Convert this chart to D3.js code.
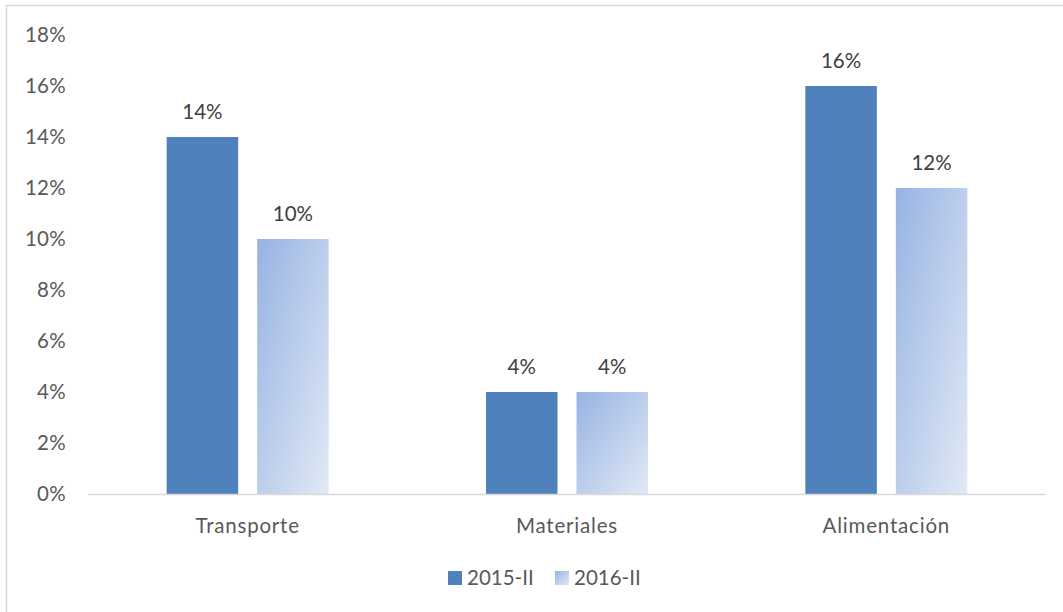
<!DOCTYPE html>
<html>
<head>
<meta charset="utf-8">
<script src="https://cdn.jsdelivr.net/npm/d3@7"></script>
<style>
  body { margin: 0; background: #fff; }
  text { font-family: Lato, "Open Sans", sans-serif; }
</style>
</head>
<body>
<div class="chart"></div>
<script>
var categories = ['Transporte', 'Materiales', 'Alimentación'];
var series = ['2015-II', '2016-II'];
var values2015 = [0.14, 0.04, 0.16];
var values2016 = [0.10, 0.04, 0.12];
var yTicks = [0, 0.02, 0.04, 0.06, 0.08, 0.10, 0.12, 0.14, 0.16, 0.18];

var width = 1063, height = 612;
var svg = d3.select('.chart').append('svg').attr('width', width).attr('height', height);

var defs = svg.append('defs');
var grad = defs.append('linearGradient').attr('id', 'g2016')
    .attr('x1', '0%').attr('y1', '0%').attr('x2', '100%').attr('y2', '100%');
grad.append('stop').attr('offset', '0%').attr('stop-color', '#97b3e3');
grad.append('stop').attr('offset', '100%').attr('stop-color', '#e1e9f5');

// chart border
svg.append('rect').attr('x', 6.5).attr('y', 5.5).attr('width', 1080).attr('height', 640)
    .attr('fill', 'none').attr('stroke', '#d9d9d9').attr('stroke-width', 1.5);

var plotL = 88, plotR = 1046, plotT = 35, plotB = 494;
var fs = 20.5;

var x0 = d3.scaleBand().domain(categories).range([plotL, plotR]).padding(0);
var groupW = 162;
var x1 = d3.scaleBand().domain(series)
    .range([(x0.bandwidth() - groupW) / 2, (x0.bandwidth() + groupW) / 2]).paddingInner(0.21);
var y = d3.scaleLinear().domain([0, 0.18]).range([plotB, plotT]);

var fmt = d3.format('.0%');

// y tick labels
svg.append('g').selectAll('text').data(yTicks).enter().append('text')
    .attr('x', 66).attr('y', d => y(d)).attr('dy', '0.35em')
    .attr('text-anchor', 'end').attr('font-size', fs).attr('fill', '#595959')
    .attr('letter-spacing', 0.3)
    .text(d => fmt(d));

var rows = categories.map((c, i) => ({cat: c, vals: [values2015[i], values2016[i]]}));
var fills = ['#4f81bd', 'url(#g2016)'];

var groups = svg.append('g').selectAll('g').data(rows).enter().append('g')
    .attr('transform', d => `translate(${x0(d.cat)},0)`);

groups.selectAll('rect').data(d => d.vals.map((v, j) => ({s: series[j], v: v, j: j})))
    .enter().append('rect')
    .attr('x', d => x1(d.s)).attr('y', d => y(d.v))
    .attr('width', x1.bandwidth()).attr('height', d => y(0) - y(d.v))
    .attr('fill', d => fills[d.j]);

groups.selectAll('text.lbl').data(d => d.vals.map((v, j) => ({s: series[j], v: v})))
    .enter().append('text').attr('class', 'lbl')
    .attr('x', d => x1(d.s) + x1.bandwidth() / 2).attr('y', d => y(d.v) - 18)
    .attr('text-anchor', 'middle').attr('font-size', fs).attr('fill', '#404040')
    .text(d => fmt(d.v));

// baseline
svg.append('line').attr('x1', plotL).attr('x2', plotR).attr('y1', plotB + 0.5).attr('y2', plotB + 0.5)
    .attr('stroke', '#d9d9d9').attr('stroke-width', 1.5);

// category labels
svg.append('g').selectAll('text').data(categories).enter().append('text')
    .attr('x', d => x0(d) + x0.bandwidth() / 2).attr('y', 533)
    .attr('text-anchor', 'middle').attr('font-size', fs).attr('fill', '#595959')
    .attr('letter-spacing', 0.8)
    .text(d => d);

// legend
var legend = svg.append('g');
var legX = [448, 555];
series.forEach(function(s, i) {
    legend.append('rect').attr('x', legX[i]).attr('y', 571).attr('width', 14).attr('height', 14)
        .attr('fill', fills[i]);
    legend.append('text').attr('x', legX[i] + 19).attr('y', 578).attr('dy', '0.35em')
        .attr('font-size', fs).attr('fill', '#595959').text(s);
});
</script>
</body>
</html>
